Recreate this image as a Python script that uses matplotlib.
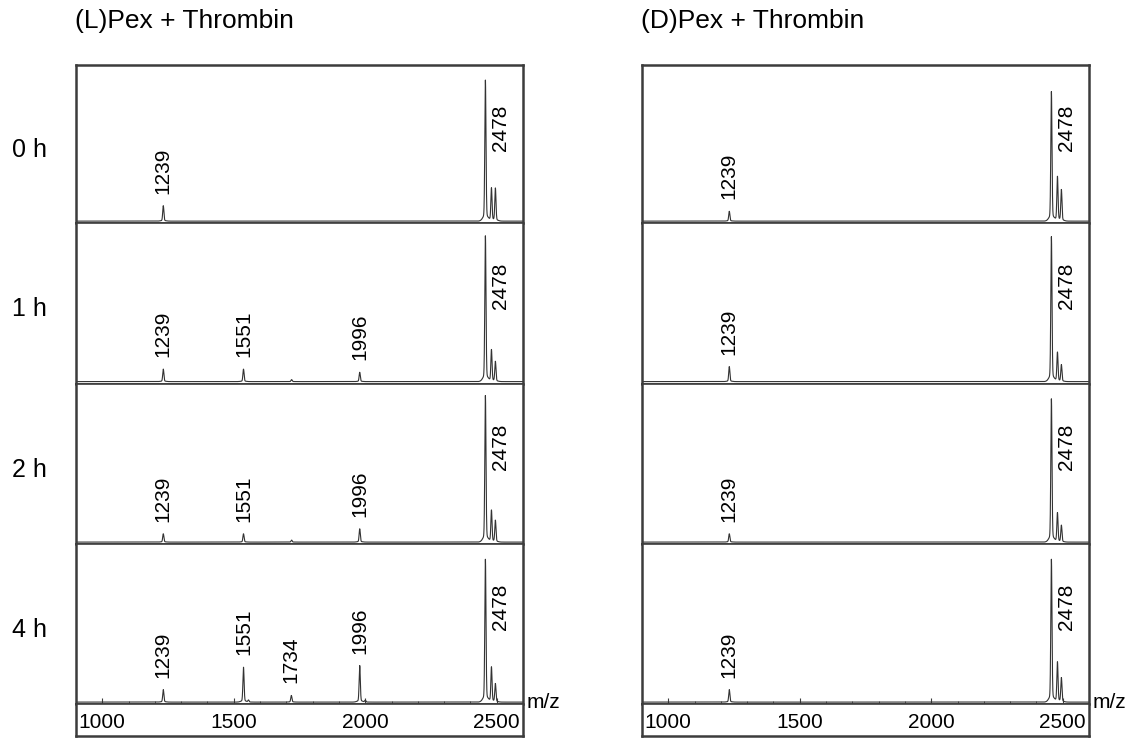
import numpy as np
import matplotlib
matplotlib.use('Agg')
import matplotlib.pyplot as plt
import matplotlib.transforms as mtransforms

plt.rcParams['font.family'] = ['Liberation Sans', 'DejaVu Sans']

# peak lists per strip: (m/z position, relative height)
times = ['0 h', '1 h', '2 h', '4 h']
titles = ['(L)Pex + Thrombin', '(D)Pex + Thrombin']

L_pos = [
    [1232, 2457, 2480, 2495],
    [1232, 1537, 1720, 1979, 2457, 2480, 2495],
    [1232, 1537, 1720, 1979, 2457, 2480, 2495],
    [1232, 1537, 1556, 1719, 1979, 2000, 2457, 2480, 2495],
]
L_hgt = [
    [0.094, 0.86, 0.20, 0.20],
    [0.075, 0.075, 0.012, 0.056, 0.875, 0.19, 0.12],
    [0.05, 0.05, 0.012, 0.08, 0.88, 0.19, 0.13],
    [0.075, 0.21, 0.012, 0.04, 0.22, 0.012, 0.86, 0.21, 0.11],
]
R_pos = [
    [1232, 2457, 2480, 2495],
    [1232, 2457, 2480, 2495],
    [1232, 2457, 2480, 2495],
    [1232, 2457, 2480, 2495],
]
R_hgt = [
    [0.06, 0.79, 0.27, 0.19],
    [0.09, 0.87, 0.175, 0.10],
    [0.05, 0.86, 0.175, 0.10],
    [0.075, 0.86, 0.24, 0.145],
]

# labelled peaks: (m/z position, text)
L_labels = [
    [(1232, '1239')],
    [(1232, '1239'), (1537, '1551'), (1979, '1996')],
    [(1232, '1239'), (1537, '1551'), (1979, '1996')],
    [(1232, '1239'), (1537, '1551'), (1719, '1734'), (1979, '1996')],
]
R_labels = [[(1232, '1239')]] * 4
main_label = (2457, '2478')

xticks = [1000, 1500, 2000, 2500]
xmin, xmax = 900, 2600

x = np.arange(xmin, xmax, 0.25)


def spectrum(pos, hgt):
    y = np.zeros_like(x)
    for c, h in zip(pos, hgt):
        y += h * np.exp(-0.5 * ((x - c) / 2.2) ** 2)
        y += 0.05 * h * np.exp(-0.5 * ((x - c) / 9.0) ** 2)
    return y


W, H = 1133, 738
fig = plt.figure(figsize=(W / 100, H / 100), dpi=100)

edges = [65, 223, 383.5, 544, 704]
box_bottom = 736
frame_col = '#3c3c3c'
panel_left = [76, 642]
panel_w = 447


def fy(px):
    return 1 - px / H


for p, (pos_all, hgt_all, labs_all) in enumerate([(L_pos, L_hgt, L_labels), (R_pos, R_hgt, R_labels)]):
    x0 = panel_left[p] / W
    w = panel_w / W
    for i in range(4):
        ax = fig.add_axes([x0, fy(edges[i + 1]), w, (edges[i + 1] - edges[i]) / H])
        y = spectrum(pos_all[i], hgt_all[i])
        ax.plot(x, y, color='#333333', lw=0.8)
        ax.set_xlim(xmin, xmax)
        ax.set_ylim(-0.012, 1.0)
        ax.set_yticks([])
        for s in ax.spines.values():
            s.set_color(frame_col)
            s.set_linewidth(1.2)
        ax.spines['left'].set_linewidth(1.8)
        ax.spines['right'].set_linewidth(1.8)
        if i == 0:
            ax.spines['top'].set_linewidth(1.8)
        if i == 3:
            ax.set_xticks(xticks)
            ax.set_xticks(np.arange(1000, 2600, 100), minor=True)
            ax.tick_params(axis='x', which='both', direction='in', labelbottom=False,
                           color=frame_col)
            ax.tick_params(axis='x', which='major', length=4)
            ax.tick_params(axis='x', which='minor', length=2.5)
        else:
            ax.set_xticks([])
        # peak labels
        for c, t in labs_all[i]:
            h = max(y[np.abs(x - c) < 3])
            ax.annotate(t, (c, h), xytext=(0, 12), textcoords='offset pixels',
                        rotation=90, ha='center', va='bottom', fontsize=15)
        ax.annotate(main_label[1], (main_label[0], 1.0), xytext=(15, -40),
                    textcoords='offset pixels', rotation=90, ha='center', va='top',
                    fontsize=15)
        if p == 0:
            fig.text(12 / W, fy((edges[i] + edges[i + 1]) / 2 + 6), times[i],
                     fontsize=18, ha='left', va='center')

    # tick label box
    bx = fig.add_axes([x0, fy(box_bottom), w, (box_bottom - edges[4]) / H])
    bx.set_xlim(xmin, xmax)
    bx.set_ylim(0, 1)
    bx.set_xticks([])
    bx.set_yticks([])
    for s in bx.spines.values():
        s.set_color(frame_col)
        s.set_linewidth(1.8)
    bx.spines['top'].set_linewidth(1.2)
    trans = mtransforms.blended_transform_factory(bx.transData, bx.transAxes)
    for v in xticks:
        bx.text(v, 0.42, str(v), transform=trans, ha='center', va='center', fontsize=15)

    fig.text((panel_left[p] + panel_w + 4) / W, fy(edges[4] - 1), 'm/z',
             fontsize=15, ha='left', va='center')
    fig.text((panel_left[p] - 1) / W, fy(21), titles[p], fontsize=19,
             ha='left', va='center')

fig.savefig('out.png', dpi=100)
